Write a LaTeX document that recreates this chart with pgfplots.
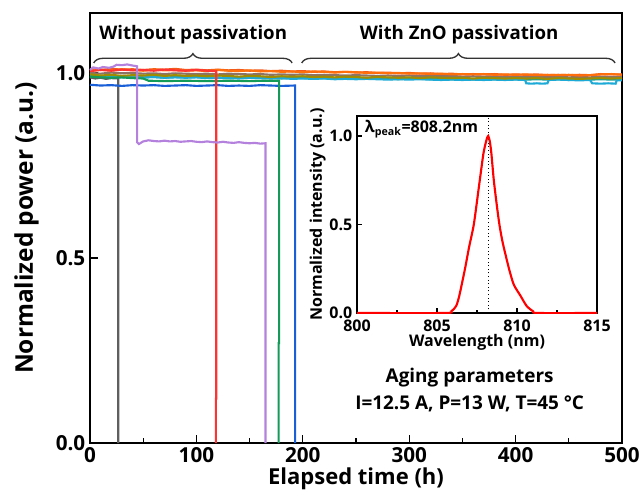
\documentclass[border=0pt]{standalone}
\usepackage{fontspec}
\setmainfont{Open Sans}
\usepackage{pgfplots}
\pgfplotsset{compat=1.18}
\usetikzlibrary{decorations.pathreplacing}
\definecolor{cgray}{RGB}{95,95,95}
\definecolor{cpurple}{RGB}{180,130,220}
\definecolor{cred}{RGB}{255,50,50}
\definecolor{cgreen}{RGB}{20,155,90}
\definecolor{cblue}{RGB}{25,95,215}
\definecolor{corange}{RGB}{255,110,10}
\definecolor{corange2}{RGB}{240,90,30}
\definecolor{colive}{RGB}{160,140,0}
\definecolor{cteal}{RGB}{25,160,150}
\definecolor{ccyan}{RGB}{30,170,215}
\definecolor{cbrown}{RGB}{140,115,100}
\begin{document}
\begin{tikzpicture}
\begin{axis}[
  name=main, at={(0,0)}, anchor=south west,
  scale only axis, width=399pt, height=322.5pt,
  xmin=0, xmax=500, ymin=0, ymax=1.162,
  xtick={0,100,...,500}, minor x tick num=1,
  ytick={0,0.5,1.0},
  yticklabel style={/pgf/number format/fixed, /pgf/number format/fixed zerofill, /pgf/number format/precision=1},
  /pgf/number format/assume math mode=true,
  tick label style={font=\fontsize{15.5}{17}\selectfont\bfseries},
  tick align=inside, xtick pos=left, ytick pos=left,
  major tick length=6pt, minor tick length=3.5pt,
  every tick/.style={line width=1pt, black},
  axis line style={line width=1.3pt},
  xlabel={Elapsed time (h)}, ylabel={Normalized power (a.u.)},
  xlabel style={font=\fontsize{16.5}{18}\selectfont\bfseries, yshift=3pt},
  ylabel style={font=\fontsize{18.3}{20}\selectfont\bfseries, yshift=6pt},
  clip=false,
  every axis plot/.append style={line width=1.6pt},
]
% --- passivated devices (0-500 h) ---
\addplot[cbrown] coordinates {(0,1.000)(10,0.998)(20,1.001)(30,0.999)(40,1.000)(50,0.998)(60,0.999)(70,0.997)(80,0.999)(90,0.998)(100,0.997)(110,0.998)(120,0.996)(130,0.998)(140,0.997)(150,0.996)(160,0.997)(170,0.995)(180,0.996)(190,0.995)(200,0.996)(210,0.994)(220,0.995)(230,0.994)(240,0.993)(250,0.994)(260,0.993)(270,0.992)(280,0.993)(290,0.992)(300,0.993)(310,0.991)(320,0.992)(330,0.991)(340,0.992)(350,0.990)(360,0.991)(370,0.990)(380,0.991)(390,0.989)(400,0.990)(410,0.989)(420,0.990)(430,0.989)(440,0.990)(450,0.988)(460,0.989)(470,0.988)(480,0.990)(490,0.989)(500,0.989)};
\addplot[cteal] coordinates {(0,0.990)(10,0.988)(20,0.991)(30,0.989)(40,0.990)(50,0.988)(60,0.989)(70,0.987)(80,0.989)(90,0.988)(100,0.989)(110,0.987)(120,0.988)(130,0.986)(140,0.988)(150,0.987)(160,0.986)(170,0.987)(180,0.985)(190,0.987)(200,0.986)(210,0.985)(220,0.986)(230,0.984)(240,0.986)(250,0.985)(260,0.984)(270,0.985)(280,0.984)(290,0.983)(300,0.985)(310,0.984)(320,0.983)(330,0.984)(340,0.983)(350,0.984)(360,0.982)(370,0.984)(380,0.983)(390,0.982)(400,0.983)(410,0.982)(420,0.983)(430,0.982)(440,0.983)(450,0.981)(460,0.983)(470,0.982)(480,0.983)(490,0.982)(500,0.982)};
\addplot[ccyan] coordinates {(0,0.992)(10,0.989)(20,0.991)(30,0.988)(40,0.990)(50,0.988)(60,0.989)(70,0.987)(80,0.988)(90,0.987)(100,0.988)(110,0.986)(120,0.987)(130,0.986)(140,0.985)(150,0.987)(160,0.986)(170,0.985)(180,0.986)(190,0.984)(200,0.985)(210,0.984)(220,0.985)(230,0.983)(240,0.984)(250,0.983)(260,0.984)(270,0.983)(280,0.982)(290,0.983)(300,0.982)(310,0.983)(320,0.982)(330,0.981)(340,0.982)(350,0.981)(360,0.982)(370,0.981)(380,0.982)(390,0.981)(400,0.982)(409,0.981)(410,0.972)(415,0.971)(420,0.972)(425,0.971)(430,0.972)(431,0.981)(440,0.982)(450,0.981)(460,0.980)(470,0.981)(472,0.972)(480,0.971)(487,0.972)(494,0.971)(495,0.980)(500,0.980)};
\addplot[colive] coordinates {(0,0.996)(10,0.993)(20,0.995)(30,0.992)(40,0.994)(50,0.993)(60,0.995)(70,0.992)(80,0.994)(90,0.992)(100,0.993)(110,0.991)(120,0.993)(130,0.992)(140,0.990)(150,0.992)(160,0.991)(170,0.989)(180,0.991)(190,0.990)(200,0.991)(210,0.989)(220,0.990)(230,0.988)(240,0.990)(250,0.989)(260,0.987)(270,0.989)(280,0.988)(290,0.987)(300,0.988)(310,0.986)(320,0.988)(330,0.987)(340,0.986)(350,0.987)(360,0.985)(370,0.987)(380,0.986)(390,0.985)(400,0.986)(410,0.985)(420,0.986)(430,0.984)(440,0.986)(450,0.985)(460,0.984)(470,0.985)(480,0.986)(490,0.985)(500,0.986)};
\addplot[corange2] coordinates {(0,1.010)(10,1.008)(20,1.011)(30,1.009)(40,1.010)(50,1.008)(60,1.010)(70,1.009)(80,1.011)(90,1.008)(100,1.009)(110,1.007)(120,1.009)(130,1.007)(140,1.008)(150,1.006)(160,1.007)(170,1.005)(180,1.006)(190,1.004)(200,1.005)(210,1.003)(220,1.004)(230,1.002)(240,1.003)(250,1.001)(260,1.002)(270,1.000)(280,1.001)(290,0.999)(300,1.000)(310,0.998)(320,0.999)(330,0.997)(340,0.998)(350,0.996)(360,0.997)(370,0.996)(380,0.997)(390,0.995)(400,0.996)(410,0.995)(420,0.996)(430,0.994)(440,0.995)(450,0.994)(460,0.995)(470,0.994)(480,0.997)(490,0.996)(500,0.996)};
\addplot[corange] coordinates {(0,1.006)(10,1.009)(20,1.007)(30,1.010)(40,1.008)(50,1.006)(60,1.009)(70,1.007)(80,1.008)(90,1.006)(100,1.007)(110,1.005)(120,1.008)(130,1.006)(140,1.005)(150,1.007)(160,1.004)(170,1.005)(180,1.003)(190,1.004)(200,1.002)(210,1.004)(220,1.003)(230,1.001)(240,1.003)(250,1.002)(260,1.000)(270,1.001)(280,0.999)(290,1.000)(300,0.998)(310,0.999)(320,0.997)(330,0.998)(340,0.996)(350,0.997)(360,0.996)(370,0.997)(380,0.995)(390,0.996)(400,0.995)(410,0.996)(420,0.994)(430,0.995)(440,0.994)(450,0.995)(460,0.993)(470,0.994)(480,0.996)(490,0.997)(500,0.995)};
% --- unpassivated devices ---
\addplot[cgray] coordinates {(0,0.988)(5,0.985)(10,0.987)(15,0.984)(20,0.986)(26.6,0.985)(26.6,0)};
\addplot[cblue] coordinates {(0,0.968)(10,0.966)(20,0.967)(30,0.965)(40,0.967)(50,0.966)(60,0.967)(70,0.965)(80,0.966)(90,0.967)(100,0.965)(110,0.966)(120,0.967)(130,0.965)(140,0.966)(150,0.965)(160,0.967)(170,0.966)(180,0.965)(192.8,0.966)(192.8,0)};
\addplot[cgreen] coordinates {(0,0.990)(10,0.988)(20,0.987)(30,0.988)(40,0.986)(50,0.985)(55,0.979)(70,0.978)(90,0.979)(110,0.978)(130,0.979)(150,0.978)(165,0.979)(177.8,0.979)(177.8,0.27)(177.3,0.27)(177.3,0)};
\addplot[cred] coordinates {(0,1.005)(10,1.008)(20,1.006)(30,1.009)(40,1.007)(50,1.008)(60,1.006)(70,1.009)(80,1.007)(90,1.006)(100,1.008)(110,1.006)(118.6,1.005)(118.6,0.12)(118.3,0.12)(118.3,0)};
\addplot[cpurple] coordinates {(0,1.008)(3,1.015)(8,1.012)(12,1.016)(18,1.014)(22,1.017)(25,1.022)(30,1.021)(35,1.023)(40,1.020)(44.3,1.018)(44.3,0.813)(46,0.808)(50,0.815)(55,0.818)(60,0.816)(65,0.815)(70,0.817)(75,0.815)(80,0.816)(85,0.814)(90,0.815)(95,0.816)(100,0.814)(105,0.813)(110,0.815)(115,0.813)(120,0.812)(125,0.814)(130,0.812)(135,0.811)(140,0.813)(145,0.811)(150,0.810)(155,0.811)(160,0.809)(165,0.810)(165,0)};
% --- annotations ---
\draw[decorate, decoration={brace, amplitude=7pt}, line width=1pt, black!80]
  (axis cs:3.5,1.027) -- (axis cs:190,1.027);
\draw[decorate, decoration={brace, amplitude=7pt}, line width=1pt, black!80]
  (axis cs:199,1.027) -- (axis cs:493.5,1.027);
\node[font=\fontsize{14}{16}\selectfont\bfseries] at (axis cs:97,1.103) {Without passivation};
\node[font=\fontsize{14}{16}\selectfont\bfseries] at (axis cs:347,1.103) {With ZnO passivation};
\node[font=\fontsize{14.2}{16}\selectfont\bfseries] at (axis cs:356.8,0.178) {Aging parameters};
\node[font=\fontsize{14.2}{16}\selectfont\bfseries] at (axis cs:356.8,0.106) {I=12.5 A, P=13 W, T=45~°C};
\end{axis}
\begin{axis}[
  at={(200.25pt,97.5pt)}, anchor=south west,
  scale only axis, width=180pt, height=147.75pt,
  xmin=800, xmax=815, ymin=0, ymax=1.113,
  xtick={800,805,810,815}, minor x tick num=1,
  ytick={0,0.5,1.0},
  yticklabel style={/pgf/number format/fixed, /pgf/number format/fixed zerofill, /pgf/number format/precision=1},
  xticklabel style={/pgf/number format/1000 sep={}, yshift=-1.5pt},
  /pgf/number format/assume math mode=true,
  tick label style={font=\fontsize{12}{14}\selectfont\bfseries},
  tick align=inside, xtick pos=left, ytick pos=left,
  major tick length=4pt, minor tick length=2.5pt,
  every tick/.style={line width=0.8pt, black},
  axis line style={line width=1pt},
  axis background/.style={fill=white},
  xlabel={Wavelength (nm)}, ylabel={Normalized intensity (a.u.)},
  label style={font=\fontsize{12}{14}\selectfont\bfseries},
  xlabel style={yshift=5pt},
  ylabel style={yshift=-4pt},
]
\addplot[black, dotted, line width=0.7pt] coordinates {(808.2,0) (808.2,1.113)};
\addplot[red, line width=1.6pt, smooth, tension=0.4] coordinates {(800,0)(805.5,0)(805.9,0.01)(806.2,0.04)(806.4,0.1)(806.75,0.25)(807.0,0.37)(807.3,0.5)(807.6,0.7)(807.9,0.9)(808.1,0.98)(808.2,1.0)(808.3,0.97)(808.4,0.9)(808.55,0.75)(808.75,0.6)(808.9,0.5)(809.1,0.4)(809.5,0.25)(809.8,0.16)(810.2,0.1)(810.6,0.04)(811.0,0.01)(811.3,0)(815,0)};
\node[anchor=west, font=\fontsize{12}{14}\selectfont\bfseries] at (axis cs:800.2,1.04) {λ\textsubscript{peak}=808.2nm};
\end{axis}
\pgfresetboundingbox
\path (-67.5pt,-42.75pt) rectangle ++(481.5pt,375pt);
\end{tikzpicture}
\end{document}
